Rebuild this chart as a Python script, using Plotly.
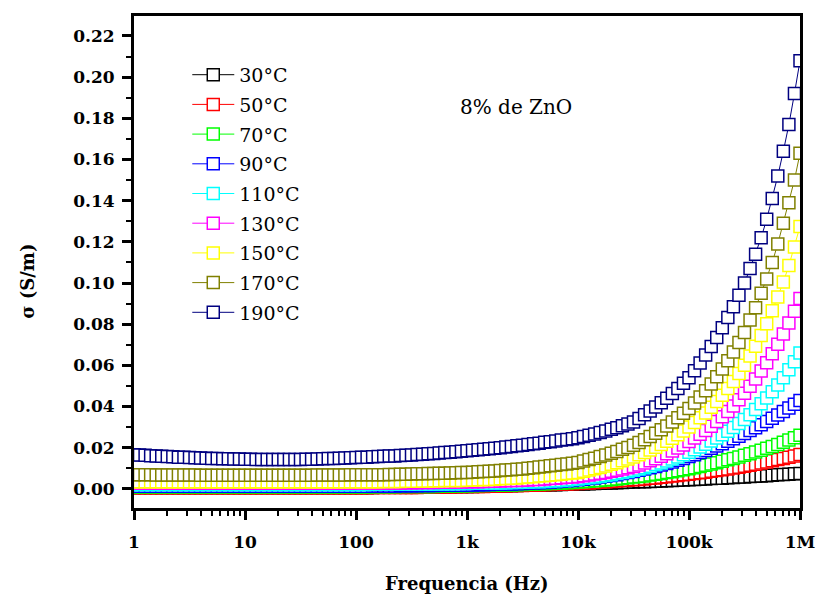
import numpy as np
import plotly.graph_objects as go

# Frequency sweep: 1 Hz to 1 MHz, 20 points per decade
freq_hz = np.logspace(0, 6, 121).tolist()

temp_labels = ["30°C", "50°C", "70°C", "90°C", "110°C", "130°C", "150°C", "170°C", "190°C"]
temp_colors = ["#000000", "#FF0000", "#00FF00", "#0000FF", "#00FFFF",
               "#FF00FF", "#FFFF00", "#808000", "#000080"]

# Conductivity sigma (S/m), one list per temperature, rows of 10 points
sigma_30 = [
    0.0007, 0.0007, 0.0007, 0.0007, 0.0007, 0.0007, 0.0007, 0.0007, 0.0007, 0.0007,
    0.0007, 0.0007, 0.0007, 0.0007, 0.0007, 0.0007, 0.0007, 0.0007, 0.0007, 0.0007,
    0.0007, 0.0007, 0.0007, 0.0007, 0.0007, 0.0007, 0.0007, 0.0007, 0.0007, 0.0007,
    0.0007, 0.0007, 0.0007, 0.0007, 0.0007, 0.0007, 0.0007, 0.0007, 0.0007, 0.0007,
    0.0007, 0.0007, 0.0007, 0.0007, 0.0008, 0.0008, 0.0008, 0.0008, 0.0008, 0.0009,
    0.0009, 0.0009, 0.0009, 0.0010, 0.0010, 0.0010, 0.0011, 0.0011, 0.0011, 0.0012,
    0.0012, 0.0012, 0.0013, 0.0013, 0.0014, 0.0014, 0.0015, 0.0015, 0.0016, 0.0016,
    0.0017, 0.0017, 0.0018, 0.0018, 0.0019, 0.0020, 0.0020, 0.0021, 0.0022, 0.0022,
    0.0023, 0.0024, 0.0025, 0.0026, 0.0027, 0.0028, 0.0029, 0.0030, 0.0031, 0.0032,
    0.0033, 0.0034, 0.0035, 0.0036, 0.0037, 0.0038, 0.0039, 0.0041, 0.0042, 0.0043,
    0.0044, 0.0046, 0.0047, 0.0048, 0.0050, 0.0051, 0.0052, 0.0054, 0.0055, 0.0057,
    0.0058, 0.0060, 0.0061, 0.0063, 0.0064, 0.0066, 0.0068, 0.0070, 0.0071, 0.0073, 0.0075,
]
sigma_50 = [
    0.0005, 0.0005, 0.0005, 0.0005, 0.0005, 0.0005, 0.0005, 0.0005, 0.0005, 0.0005,
    0.0005, 0.0005, 0.0005, 0.0005, 0.0005, 0.0005, 0.0005, 0.0005, 0.0005, 0.0005,
    0.0005, 0.0005, 0.0005, 0.0005, 0.0005, 0.0005, 0.0005, 0.0005, 0.0005, 0.0005,
    0.0005, 0.0005, 0.0005, 0.0005, 0.0005, 0.0005, 0.0005, 0.0005, 0.0005, 0.0005,
    0.0005, 0.0005, 0.0005, 0.0006, 0.0006, 0.0006, 0.0006, 0.0006, 0.0007, 0.0007,
    0.0007, 0.0007, 0.0008, 0.0008, 0.0008, 0.0009, 0.0009, 0.0009, 0.0010, 0.0010,
    0.0011, 0.0011, 0.0012, 0.0012, 0.0013, 0.0013, 0.0014, 0.0014, 0.0015, 0.0016,
    0.0016, 0.0017, 0.0018, 0.0019, 0.0020, 0.0021, 0.0022, 0.0023, 0.0024, 0.0025,
    0.0026, 0.0028, 0.0029, 0.0031, 0.0032, 0.0034, 0.0036, 0.0038, 0.0040, 0.0042,
    0.0044, 0.0046, 0.0048, 0.0051, 0.0053, 0.0056, 0.0059, 0.0062, 0.0065, 0.0068,
    0.0071, 0.0074, 0.0078, 0.0081, 0.0085, 0.0089, 0.0093, 0.0097, 0.0101, 0.0105,
    0.0110, 0.0115, 0.0120, 0.0125, 0.0130, 0.0136, 0.0142, 0.0148, 0.0154, 0.0160, 0.0167,
]
sigma_70 = [
    0.0009, 0.0009, 0.0009, 0.0009, 0.0009, 0.0009, 0.0009, 0.0009, 0.0009, 0.0009,
    0.0009, 0.0009, 0.0009, 0.0009, 0.0009, 0.0009, 0.0009, 0.0009, 0.0009, 0.0009,
    0.0009, 0.0009, 0.0009, 0.0009, 0.0009, 0.0009, 0.0009, 0.0009, 0.0009, 0.0009,
    0.0009, 0.0009, 0.0009, 0.0009, 0.0009, 0.0009, 0.0009, 0.0009, 0.0009, 0.0009,
    0.0009, 0.0009, 0.0009, 0.0010, 0.0010, 0.0010, 0.0010, 0.0010, 0.0011, 0.0011,
    0.0011, 0.0011, 0.0012, 0.0012, 0.0012, 0.0013, 0.0013, 0.0013, 0.0014, 0.0014,
    0.0015, 0.0015, 0.0016, 0.0016, 0.0017, 0.0017, 0.0018, 0.0019, 0.0019, 0.0020,
    0.0021, 0.0022, 0.0023, 0.0024, 0.0025, 0.0026, 0.0027, 0.0028, 0.0030, 0.0031,
    0.0033, 0.0035, 0.0037, 0.0039, 0.0041, 0.0043, 0.0045, 0.0048, 0.0051, 0.0054,
    0.0057, 0.0060, 0.0063, 0.0067, 0.0071, 0.0075, 0.0079, 0.0083, 0.0088, 0.0093,
    0.0098, 0.0103, 0.0109, 0.0115, 0.0121, 0.0127, 0.0134, 0.0141, 0.0148, 0.0155,
    0.0163, 0.0171, 0.0179, 0.0188, 0.0197, 0.0206, 0.0216, 0.0226, 0.0237, 0.0248, 0.0260,
]
sigma_90 = [
    0.0013, 0.0013, 0.0013, 0.0013, 0.0013, 0.0013, 0.0013, 0.0013, 0.0013, 0.0013,
    0.0013, 0.0013, 0.0013, 0.0013, 0.0013, 0.0013, 0.0013, 0.0013, 0.0013, 0.0013,
    0.0013, 0.0013, 0.0013, 0.0013, 0.0013, 0.0013, 0.0013, 0.0013, 0.0013, 0.0013,
    0.0013, 0.0013, 0.0013, 0.0013, 0.0013, 0.0013, 0.0013, 0.0013, 0.0013, 0.0013,
    0.0013, 0.0013, 0.0013, 0.0014, 0.0014, 0.0014, 0.0014, 0.0014, 0.0015, 0.0015,
    0.0015, 0.0015, 0.0016, 0.0016, 0.0016, 0.0017, 0.0017, 0.0017, 0.0018, 0.0018,
    0.0019, 0.0019, 0.0020, 0.0020, 0.0021, 0.0022, 0.0022, 0.0023, 0.0024, 0.0025,
    0.0026, 0.0027, 0.0028, 0.0030, 0.0031, 0.0033, 0.0035, 0.0037, 0.0039, 0.0041,
    0.0044, 0.0047, 0.0050, 0.0053, 0.0057, 0.0061, 0.0065, 0.0069, 0.0074, 0.0079,
    0.0084, 0.0090, 0.0096, 0.0102, 0.0109, 0.0116, 0.0123, 0.0131, 0.0139, 0.0148,
    0.0157, 0.0166, 0.0176, 0.0186, 0.0197, 0.0208, 0.0219, 0.0231, 0.0243, 0.0256,
    0.0269, 0.0283, 0.0297, 0.0312, 0.0327, 0.0343, 0.0359, 0.0376, 0.0393, 0.0411, 0.0429,
]
sigma_110 = [
    0.0021, 0.0021, 0.0021, 0.0021, 0.0021, 0.0021, 0.0021, 0.0021, 0.0021, 0.0021,
    0.0021, 0.0021, 0.0021, 0.0021, 0.0021, 0.0021, 0.0021, 0.0021, 0.0021, 0.0021,
    0.0021, 0.0021, 0.0021, 0.0021, 0.0021, 0.0021, 0.0021, 0.0021, 0.0021, 0.0021,
    0.0021, 0.0021, 0.0021, 0.0021, 0.0021, 0.0021, 0.0021, 0.0021, 0.0021, 0.0021,
    0.0021, 0.0021, 0.0021, 0.0022, 0.0022, 0.0022, 0.0022, 0.0022, 0.0023, 0.0023,
    0.0023, 0.0023, 0.0024, 0.0024, 0.0024, 0.0025, 0.0025, 0.0025, 0.0026, 0.0026,
    0.0026, 0.0027, 0.0027, 0.0028, 0.0028, 0.0029, 0.0029, 0.0030, 0.0031, 0.0031,
    0.0032, 0.0033, 0.0034, 0.0035, 0.0036, 0.0038, 0.0039, 0.0041, 0.0043, 0.0045,
    0.0048, 0.0051, 0.0054, 0.0057, 0.0061, 0.0065, 0.0069, 0.0074, 0.0079, 0.0084,
    0.0090, 0.0096, 0.0103, 0.0110, 0.0118, 0.0126, 0.0135, 0.0145, 0.0155, 0.0166,
    0.0178, 0.0190, 0.0203, 0.0217, 0.0232, 0.0247, 0.0263, 0.0280, 0.0298, 0.0317,
    0.0337, 0.0360, 0.0386, 0.0413, 0.0441, 0.0472, 0.0505, 0.0540, 0.0578, 0.0618, 0.0660,
]
sigma_130 = [
    0.0027, 0.0027, 0.0027, 0.0027, 0.0027, 0.0027, 0.0027, 0.0027, 0.0027, 0.0027,
    0.0027, 0.0027, 0.0027, 0.0027, 0.0027, 0.0027, 0.0027, 0.0027, 0.0027, 0.0027,
    0.0027, 0.0027, 0.0027, 0.0027, 0.0027, 0.0027, 0.0027, 0.0027, 0.0027, 0.0027,
    0.0027, 0.0027, 0.0027, 0.0027, 0.0027, 0.0027, 0.0027, 0.0027, 0.0027, 0.0027,
    0.0028, 0.0028, 0.0028, 0.0028, 0.0029, 0.0029, 0.0029, 0.0029, 0.0029, 0.0030,
    0.0030, 0.0030, 0.0031, 0.0031, 0.0031, 0.0032, 0.0032, 0.0032, 0.0033, 0.0033,
    0.0034, 0.0035, 0.0035, 0.0036, 0.0037, 0.0037, 0.0038, 0.0039, 0.0040, 0.0041,
    0.0042, 0.0043, 0.0045, 0.0046, 0.0048, 0.0050, 0.0052, 0.0054, 0.0056, 0.0058,
    0.0060, 0.0064, 0.0067, 0.0072, 0.0076, 0.0080, 0.0085, 0.0090, 0.0096, 0.0102,
    0.0108, 0.0116, 0.0126, 0.0136, 0.0146, 0.0158, 0.0170, 0.0184, 0.0198, 0.0213,
    0.0230, 0.0247, 0.0265, 0.0284, 0.0304, 0.0327, 0.0350, 0.0376, 0.0403, 0.0433,
    0.0465, 0.0498, 0.0534, 0.0572, 0.0612, 0.0656, 0.0702, 0.0752, 0.0806, 0.0863, 0.0925,
]
sigma_150 = [
    0.0034, 0.0034, 0.0034, 0.0034, 0.0034, 0.0034, 0.0034, 0.0034, 0.0034, 0.0034,
    0.0034, 0.0034, 0.0034, 0.0034, 0.0034, 0.0034, 0.0034, 0.0034, 0.0034, 0.0034,
    0.0034, 0.0034, 0.0034, 0.0034, 0.0034, 0.0034, 0.0034, 0.0034, 0.0034, 0.0034,
    0.0034, 0.0034, 0.0034, 0.0034, 0.0034, 0.0034, 0.0034, 0.0034, 0.0034, 0.0034,
    0.0035, 0.0035, 0.0035, 0.0035, 0.0035, 0.0036, 0.0036, 0.0036, 0.0036, 0.0037,
    0.0037, 0.0037, 0.0038, 0.0038, 0.0039, 0.0039, 0.0040, 0.0040, 0.0041, 0.0041,
    0.0042, 0.0043, 0.0044, 0.0045, 0.0046, 0.0047, 0.0049, 0.0050, 0.0052, 0.0053,
    0.0055, 0.0057, 0.0059, 0.0062, 0.0064, 0.0066, 0.0069, 0.0071, 0.0074, 0.0077,
    0.0080, 0.0085, 0.0091, 0.0098, 0.0104, 0.0111, 0.0119, 0.0127, 0.0136, 0.0145,
    0.0155, 0.0166, 0.0177, 0.0189, 0.0202, 0.0216, 0.0231, 0.0246, 0.0263, 0.0281,
    0.0300, 0.0322, 0.0345, 0.0369, 0.0396, 0.0424, 0.0455, 0.0487, 0.0522, 0.0560,
    0.0600, 0.0645, 0.0693, 0.0745, 0.0802, 0.0865, 0.0932, 0.1005, 0.1085, 0.1175, 0.1275,
]
sigma_170 = [
    0.0068, 0.0068, 0.0068, 0.0068, 0.0067, 0.0067, 0.0067, 0.0067, 0.0067, 0.0067,
    0.0067, 0.0067, 0.0066, 0.0066, 0.0066, 0.0066, 0.0066, 0.0066, 0.0066, 0.0066,
    0.0066, 0.0066, 0.0066, 0.0066, 0.0066, 0.0066, 0.0066, 0.0066, 0.0066, 0.0066,
    0.0066, 0.0066, 0.0066, 0.0067, 0.0067, 0.0067, 0.0067, 0.0067, 0.0067, 0.0068,
    0.0068, 0.0068, 0.0068, 0.0069, 0.0069, 0.0069, 0.0070, 0.0070, 0.0071, 0.0071,
    0.0072, 0.0073, 0.0073, 0.0074, 0.0075, 0.0076, 0.0076, 0.0077, 0.0078, 0.0079,
    0.0080, 0.0081, 0.0083, 0.0084, 0.0086, 0.0087, 0.0089, 0.0091, 0.0093, 0.0095,
    0.0097, 0.0100, 0.0103, 0.0106, 0.0109, 0.0112, 0.0115, 0.0118, 0.0121, 0.0124,
    0.0128, 0.0135, 0.0142, 0.0149, 0.0157, 0.0165, 0.0173, 0.0182, 0.0192, 0.0201,
    0.0212, 0.0225, 0.0239, 0.0254, 0.0270, 0.0287, 0.0305, 0.0325, 0.0345, 0.0367,
    0.0390, 0.0417, 0.0446, 0.0476, 0.0509, 0.0545, 0.0582, 0.0622, 0.0665, 0.0711,
    0.0760, 0.0820, 0.0880, 0.0950, 0.1020, 0.1100, 0.1190, 0.1290, 0.1390, 0.1500, 0.1630,
]
sigma_190 = [
    0.0166, 0.0164, 0.0163, 0.0161, 0.0160, 0.0158, 0.0157, 0.0156, 0.0154, 0.0153,
    0.0152, 0.0151, 0.0150, 0.0149, 0.0148, 0.0147, 0.0146, 0.0146, 0.0145, 0.0145,
    0.0144, 0.0144, 0.0143, 0.0143, 0.0143, 0.0142, 0.0142, 0.0142, 0.0143, 0.0143,
    0.0143, 0.0144, 0.0144, 0.0145, 0.0146, 0.0147, 0.0148, 0.0149, 0.0150, 0.0151,
    0.0152, 0.0153, 0.0154, 0.0156, 0.0157, 0.0158, 0.0159, 0.0160, 0.0162, 0.0163,
    0.0165, 0.0167, 0.0168, 0.0170, 0.0172, 0.0174, 0.0176, 0.0178, 0.0180, 0.0183,
    0.0185, 0.0187, 0.0190, 0.0192, 0.0195, 0.0197, 0.0200, 0.0203, 0.0206, 0.0209,
    0.0212, 0.0215, 0.0219, 0.0222, 0.0226, 0.0229, 0.0233, 0.0237, 0.0240, 0.0244,
    0.0248, 0.0254, 0.0260, 0.0267, 0.0274, 0.0281, 0.0289, 0.0297, 0.0306, 0.0315,
    0.0325, 0.0342, 0.0360, 0.0378, 0.0398, 0.0418, 0.0440, 0.0463, 0.0487, 0.0513,
    0.0540, 0.0574, 0.0611, 0.0650, 0.0691, 0.0735, 0.0782, 0.0832, 0.0885, 0.0941,
    0.1000, 0.1070, 0.1140, 0.1220, 0.1310, 0.1410, 0.1520, 0.1640, 0.1770, 0.1920, 0.2080,
]

sigma_series = [sigma_30, sigma_50, sigma_70, sigma_90, sigma_110,
                sigma_130, sigma_150, sigma_170, sigma_190]

SERIF = "DejaVu Serif"

fig = go.Figure()
for label, color, sigma in zip(temp_labels, temp_colors, sigma_series):
    fig.add_trace(go.Scatter(
        x=freq_hz, y=sigma, name=label, legendgroup=label,
        mode="lines+markers",
        line=dict(color=color, width=1),
        marker=dict(symbol="square", size=12, color="white",
                    line=dict(color=color, width=1.5)),
    ))

# Sample label and axis titles
fig.add_annotation(
    text="8% de ZnO", xref="paper", yref="paper", x=0.574, y=0.815,
    xanchor="center", yanchor="middle",
    showarrow=False, font=dict(family=SERIF, size=20, color="black"),
)
fig.add_annotation(
    text="<b>Frequencia (Hz)</b>", xref="paper", yref="paper", x=0.5, y=-0.154,
    xanchor="center", yanchor="middle",
    showarrow=False, font=dict(family=SERIF, size=18, color="black"),
)
fig.add_annotation(
    text="<b>σ (S/m)</b>", xref="paper", yref="paper", x=-0.159, y=0.46,
    xanchor="center", yanchor="middle",
    textangle=-90, showarrow=False, font=dict(family=SERIF, size=18, color="black"),
)

fig.update_layout(
    width=818, height=594,
    margin=dict(l=134, r=18, t=16, b=86),
    paper_bgcolor="white", plot_bgcolor="white",
    showlegend=True,
    legend=dict(
        x=0.08, y=0.919, xanchor="left", yanchor="top",
        bgcolor="rgba(0,0,0,0)", borderwidth=0,
        font=dict(family=SERIF, size=19, color="black"),
        tracegroupgap=2, itemwidth=42,
    ),
    xaxis=dict(
        type="log", range=[0, 6], automargin=False,
        tickmode="linear", tick0=0, dtick=1, tickformat="~s",
        ticks="outside", ticklen=9, tickwidth=2.5, tickcolor="black",
        minor=dict(ticks="outside", ticklen=5, tickwidth=2, tickcolor="black",
                   dtick="D1", showgrid=False),
        showline=True, linewidth=3, linecolor="black", mirror=True,
        showgrid=False, zeroline=False,
        ticklabelstandoff=8,
        tickfont=dict(family=SERIF, size=17, color="black", weight="bold"),
    ),
    yaxis=dict(
        range=[-0.0093, 0.2297], automargin=False,
        tickmode="linear", tick0=0, dtick=0.02, tickformat=".2f",
        ticks="outside", ticklen=9, tickwidth=2.5, tickcolor="black",
        minor=dict(ticks="outside", ticklen=5, tickwidth=2, tickcolor="black",
                   dtick=0.01, showgrid=False),
        showline=True, linewidth=3, linecolor="black", mirror=True,
        showgrid=False, zeroline=False,
        ticklabelstandoff=4,
        tickfont=dict(family=SERIF, size=17, color="black", weight="bold"),
    ),
)

fig.write_html("out.html")
